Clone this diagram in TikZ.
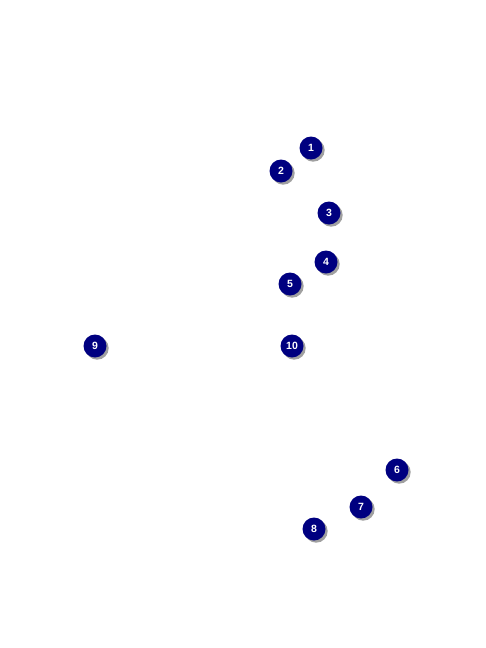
\documentclass[tikz,border=0pt]{standalone}
\usepackage{fontspec}
\setmainfont{Liberation Sans}
\usepackage{xcolor}
\usepackage{tikz}
\usetikzlibrary{shadows}
\definecolor{badge}{HTML}{000080}

\begin{document}
\begin{tikzpicture}[x=1pt,y=-1pt,
  callout/.style={circle,fill=badge,text=white,minimum size=23pt,inner sep=0pt,
    font=\bfseries\fontsize{10.5}{12}\selectfont,
    drop shadow={shadow xshift=2.2pt,shadow yshift=-2.2pt,fill=black!50,opacity=.75}}]
\useasboundingbox (0,0) rectangle (486,648);
\node[callout] (c1) at (311,148) {1};
\node[callout] (c2) at (281,171) {2};
\node[callout] (c3) at (329,213) {3};
\node[callout] (c4) at (326,262) {4};
\node[callout] (c5) at (290,284) {5};
\node[callout] (c9) at (95,346) {9};
\node[callout] (c10) at (292,346) {10};
\node[callout] (c6) at (397,470) {6};
\node[callout] (c7) at (361,507) {7};
\node[callout] (c8) at (314,529) {8};
\end{tikzpicture}
\end{document}
